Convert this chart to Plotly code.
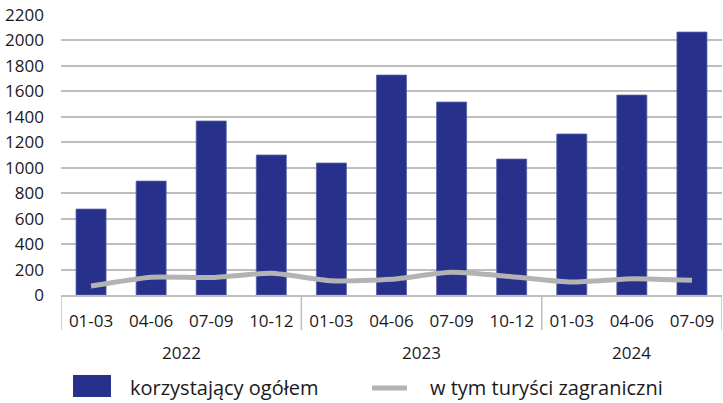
import plotly.graph_objects as go

years = ["2022"] * 4 + ["2023"] * 4 + ["2024"] * 3
quarters = ["01-03", "04-06", "07-09", "10-12", "01-03", "04-06", "07-09", "10-12", "01-03", "04-06", "07-09"]
total = [675, 895, 1367, 1100, 1037, 1728, 1516, 1068, 1265, 1571, 2066]
foreign = [70, 140, 137, 170, 112, 123, 178, 144, 102, 128, 115]
y_ticks = list(range(0, 2201, 200))
series_names = ["korzystający ogółem", "w tym turyści zagraniczni"]

font_family = "Open Sans, Noto Sans, sans-serif"
text_color = "#1a1a1a"
grid_color = "#bebebe"
bar_color = "#27318b"
line_color = "#b3b3b3"

pos = list(range(len(quarters)))

fig = go.Figure()
fig.add_trace(go.Bar(
    x=pos, y=total, name=series_names[0], width=0.5,
    marker=dict(color=bar_color, line=dict(color="#5a63a8", width=0.8)),
))
fig.add_trace(go.Scatter(
    x=pos, y=foreign, name=series_names[1],
    mode="lines", line=dict(color=line_color, width=5, shape="spline", smoothing=0.6),
))

# year groups: label centres and dividers
groups = []
for i, yv in enumerate(years):
    if not groups or groups[-1][0] != yv:
        groups.append([yv, i, i])
    else:
        groups[-1][2] = i

shapes = []
annotations = []
for yv, a, b in groups:
    annotations.append(dict(x=(a + b) / 2, y=-0.2036, xref="x", yref="paper", text=yv,
                            showarrow=False, yanchor="middle", xanchor="center",
                            font=dict(size=17, color=text_color, family=font_family)))
    shapes.append(dict(type="line", xref="x", yref="paper", x0=a - 0.5, x1=a - 0.5,
                       y0=0, y1=-0.125, line=dict(color=grid_color, width=1.5)))
shapes.append(dict(type="line", xref="x", yref="paper", x0=len(pos) - 0.5, x1=len(pos) - 0.5,
                   y0=0, y1=-0.125, line=dict(color=grid_color, width=1.5)))

# legend drawn in paper coordinates
shapes.append(dict(type="rect", xref="paper", yref="paper", x0=0.0182, x1=0.0756,
                   y0=-0.364, y1=-0.286, fillcolor=bar_color, line=dict(width=0)))
shapes.append(dict(type="line", xref="paper", yref="paper", x0=0.4705, x1=0.5234,
                   y0=-0.332, y1=-0.332, line=dict(color=line_color, width=5)))
annotations.append(dict(x=0.1014, y=-0.329, xref="paper", yref="paper", text=series_names[0],
                        showarrow=False, xanchor="left", yanchor="middle",
                        font=dict(size=20, color=text_color, family=font_family)))
annotations.append(dict(x=0.5552, y=-0.329, xref="paper", yref="paper", text=series_names[1],
                        showarrow=False, xanchor="left", yanchor="middle",
                        font=dict(size=20, color=text_color, family=font_family)))

fig.update_layout(
    width=723, height=403,
    margin=dict(l=61, r=1, t=15, b=108, autoexpand=False),
    paper_bgcolor="white", plot_bgcolor="white",
    font=dict(family=font_family, size=17, color=text_color),
    showlegend=False,
    shapes=shapes, annotations=annotations,
)
fig.update_yaxes(
    range=[0, 2200], tickvals=y_ticks, showgrid=True, gridcolor=grid_color, gridwidth=1.5,
    zeroline=False, showline=False, ticks="", ticklabelstandoff=16, automargin=False,
)
fig.update_xaxes(
    range=[-0.5, len(pos) - 0.5], tickvals=pos, ticktext=quarters,
    showline=True, linecolor=grid_color, linewidth=1.5, showgrid=False, zeroline=False,
    ticks="", ticklabelstandoff=10, automargin=False,
)
fig.write_html("out.html", config={"displayModeBar": False})

# remove the default page margin so the figure sits at the window's top-left corner
with open("out.html", encoding="utf-8") as f:
    html = f.read()
html = html.replace("<head>", "<head><style>html,body{margin:0;padding:0;overflow:hidden;}</style>", 1)
with open("out.html", "w", encoding="utf-8") as f:
    f.write(html)
